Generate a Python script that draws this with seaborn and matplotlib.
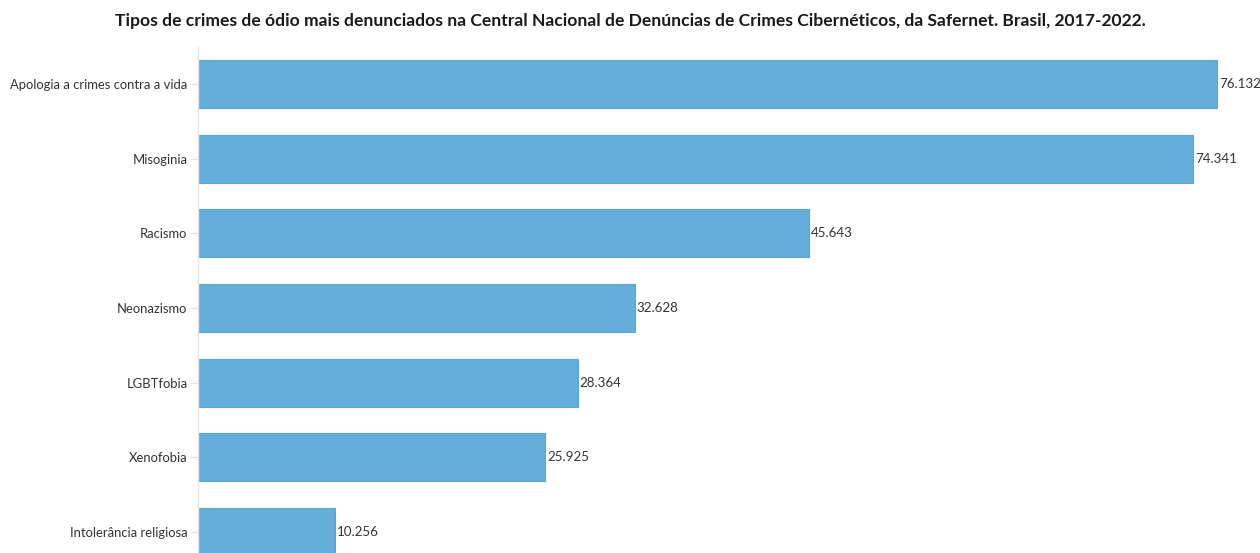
import matplotlib
matplotlib.use("Agg")
import matplotlib.pyplot as plt
import seaborn as sns
import pandas as pd

categorias = [
    "Apologia a crimes contra a vida",
    "Misoginia",
    "Racismo",
    "Neonazismo",
    "LGBTfobia",
    "Xenofobia",
    "Intolerância religiosa",
]
denuncias = [76132, 74341, 45643, 32628, 28364, 25925, 10256]
rotulos = ["76.132", "74.341", "45.643", "32.628", "28.364", "25.925", "10.256"]

titulo = ("Tipos de crimes de ódio mais denunciados na Central Nacional de "
          "Denúncias de Crimes Cibernéticos, da Safernet. Brasil, 2017-2022.")

df = pd.DataFrame({"categoria": categorias, "denuncias": denuncias})

sns.set_theme(style="white")
plt.rcParams["font.family"] = ["Lato", "DejaVu Sans"]

W, H = 1260, 553
fig = plt.figure(figsize=(W / 100, H / 100), dpi=100)
ax = fig.add_axes([198 / W, (H - 569) / H, (1258 - 198) / W, (569 - 47) / H])

sns.barplot(data=df, y="categoria", x="denuncias", orient="h",
            color="#65aedc", saturation=1, width=0.645,
            edgecolor="#5aa5d6", linewidth=0.8, ax=ax)

ax.set_xlim(0, 1060 / (1019 / 76132))
ax.set_ylim(6.5, -0.5)
ax.set_xlabel("")
ax.set_ylabel("")
ax.set_xticks([])

for s in ["top", "right", "bottom"]:
    ax.spines[s].set_visible(False)
ax.spines["left"].set_color("#e4e4e4")
ax.spines["left"].set_linewidth(1)

ax.tick_params(axis="y", length=6, width=0.8, color="#e4e4e4",
               labelsize=9.4, labelcolor="#333333", pad=1.5, left=True)

for i, (v, t) in enumerate(zip(denuncias, rotulos)):
    ax.text(v + 150, i, t, va="center", ha="left",
            fontsize=9.6, color="#333333")

fig.text(0.5, 1 - 21 / H, titulo, ha="center", va="center",
         fontsize=12.6, fontweight="bold", color="#1a1a1a")

fig.savefig("out.png", dpi=100, facecolor="white")
